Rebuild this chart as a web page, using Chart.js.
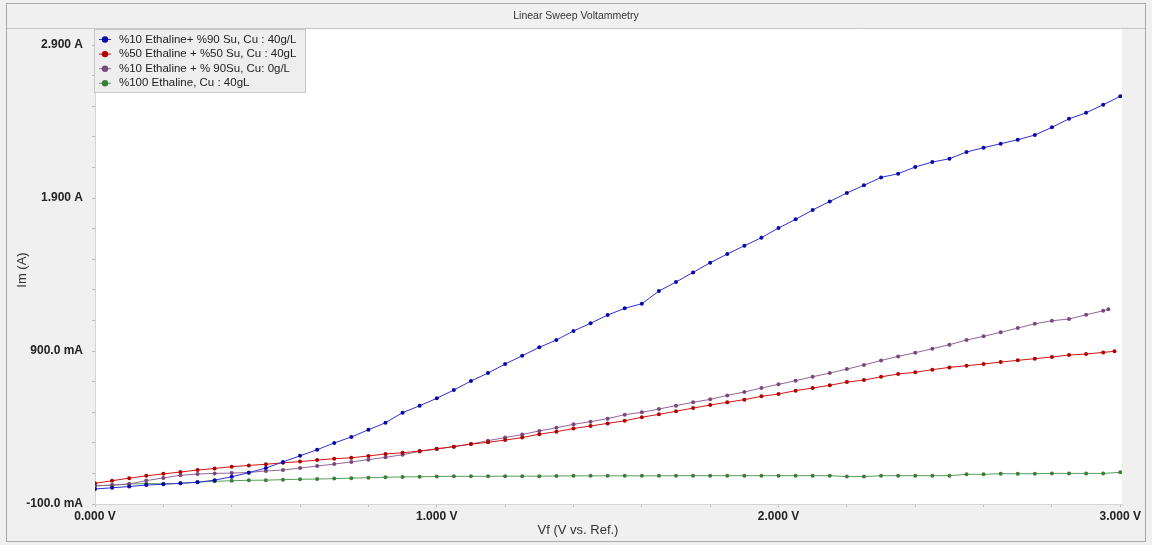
<!DOCTYPE html>
<html>
<head>
<meta charset="utf-8">
<script src="https://cdn.jsdelivr.net/npm/chart.js@4.4.1/dist/chart.umd.min.js"></script>
<style>
  html, body { margin: 0; padding: 0; background: #f0f0f0; }
  #wrap { width: 1152px; height: 545px; }
</style>
</head>
<body>
<div id="wrap"><canvas id="lsv" width="1152" height="545"></canvas></div>
<script>
// Linear Sweep Voltammetry - four electrolytes, Cu deposition

const sweepV = [
    0.00, 0.05, 0.10, 0.15, 0.20, 0.25, 0.30, 0.35, 0.40, 0.45,
    0.50, 0.55, 0.60, 0.65, 0.70, 0.75, 0.80, 0.85, 0.90, 0.95,
    1.00, 1.05, 1.10, 1.15, 1.20, 1.25, 1.30, 1.35, 1.40, 1.45,
    1.50, 1.55, 1.60, 1.65, 1.70, 1.75, 1.80, 1.85, 1.90, 1.95,
    2.00, 2.05, 2.10, 2.15, 2.20, 2.25, 2.30, 2.35, 2.40, 2.45,
    2.50, 2.55, 2.60, 2.65, 2.70, 2.75, 2.80, 2.85, 2.90, 2.95,
    3.00
];
// red and purple sweeps stop a little before 3 V
const redLastV = 2.983;
const purpleLastV = 2.965;

const seriesNames = [
    '%10 Ethaline+ %90 Su, Cu : 40g/L',
    '%50 Ethaline + %50 Su, Cu : 40gL',
    '%10 Ethaline + % 90Su, Cu: 0g/L',
    '%100 Ethaline, Cu : 40gL'
];

// current in A
const blueI = [
    -0.002, 0.006, 0.014, 0.024, 0.029, 0.035, 0.042, 0.056, 0.078, 0.105,
    0.135, 0.175, 0.215, 0.255, 0.299, 0.338, 0.385, 0.431, 0.497, 0.542,
    0.591, 0.645, 0.704, 0.756, 0.815, 0.869, 0.924, 0.972, 1.031, 1.081,
    1.135, 1.179, 1.209, 1.292, 1.351, 1.414, 1.477, 1.534, 1.588, 1.641,
    1.704, 1.761, 1.822, 1.878, 1.933, 1.983, 2.035, 2.059, 2.103, 2.135,
    2.157, 2.201, 2.229, 2.255, 2.281, 2.312, 2.362, 2.418, 2.457, 2.510,
    2.565
];
const redI = [
    0.035, 0.052, 0.069, 0.084, 0.097, 0.109, 0.122, 0.132, 0.144, 0.152,
    0.160, 0.169, 0.177, 0.187, 0.196, 0.202, 0.214, 0.227, 0.235, 0.246,
    0.261, 0.275, 0.292, 0.303, 0.318, 0.334, 0.356, 0.373, 0.393, 0.410,
    0.427, 0.444, 0.467, 0.486, 0.506, 0.527, 0.547, 0.565, 0.582, 0.604,
    0.619, 0.641, 0.658, 0.676, 0.697, 0.710, 0.731, 0.750, 0.761, 0.778,
    0.793, 0.804, 0.815, 0.828, 0.839, 0.850, 0.861, 0.874, 0.880, 0.891,
    0.898
];
const purpleI = [
    0.018, 0.024, 0.031, 0.053, 0.070, 0.088, 0.096, 0.100, 0.102, 0.106,
    0.116, 0.122, 0.135, 0.148, 0.161, 0.175, 0.190, 0.205, 0.222, 0.244,
    0.259, 0.275, 0.292, 0.314, 0.334, 0.354, 0.378, 0.398, 0.421, 0.438,
    0.458, 0.484, 0.499, 0.521, 0.543, 0.565, 0.584, 0.610, 0.632, 0.658,
    0.682, 0.706, 0.732, 0.756, 0.782, 0.809, 0.838, 0.865, 0.889, 0.915,
    0.941, 0.972, 0.996, 1.022, 1.050, 1.078, 1.098, 1.109, 1.137, 1.163,
    1.173
];
const greenI = [
    0.020, 0.022, 0.031, 0.033, 0.033, 0.035, 0.044, 0.048, 0.052, 0.055,
    0.056, 0.059, 0.062, 0.063, 0.066, 0.069, 0.072, 0.075, 0.077, 0.078,
    0.080, 0.081, 0.081, 0.081, 0.082, 0.082, 0.082, 0.083, 0.084, 0.084,
    0.084, 0.084, 0.084, 0.084, 0.085, 0.085, 0.085, 0.085, 0.085, 0.085,
    0.085, 0.085, 0.085, 0.085, 0.079, 0.079, 0.085, 0.085, 0.085, 0.085,
    0.085, 0.094, 0.094, 0.098, 0.098, 0.098, 0.100, 0.100, 0.100, 0.100,
    0.107
];

const xTickValues = [0, 0.2, 0.4, 0.6, 0.8, 1.0, 1.2, 1.4, 1.6, 1.8, 2.0, 2.2, 2.4, 2.6, 2.8, 3.0];
const xTickLabels = ['0.000 V', '', '', '', '', '1.000 V', '', '', '', '', '2.000 V', '', '', '', '', '3.000 V'];
const yTickValues = [-0.1, 0.1, 0.3, 0.5, 0.7, 0.9, 1.1, 1.3, 1.5, 1.7, 1.9, 2.1, 2.3, 2.5, 2.7, 2.9];
const yTickLabels = ['-100.0 mA', '', '', '', '', '900.0 mA', '', '', '', '', '1.900 A', '', '', '', '', '2.900 A'];

const COLORS = [
    { line: '#3030d8', dot: '#0808a8' },
    { line: '#d41414', dot: '#b00000' },
    { line: '#946698', dot: '#774a7b' },
    { line: '#55a055', dot: '#3d7d3d' }
];

function pts(vs, is, lastV) {
    return is.map((y, i) => ({ x: (lastV !== undefined && i === is.length - 1) ? lastV : vs[i], y: y }));
}

const FONT = '"Liberation Sans", Arial, sans-serif';

// frame, title, axis titles and the boxed legend like the potentiostat software
const lsvFrame = {
    id: 'lsvFrame',
    beforeDraw(chart) {
        const { ctx, chartArea: a } = chart;
        ctx.save();
        ctx.fillStyle = '#f0f0f0';
        ctx.fillRect(0, 0, chart.width, chart.height);
        ctx.fillStyle = '#ffffff';
        ctx.fillRect(a.left, a.top, a.right - a.left, a.bottom - a.top);
        ctx.strokeStyle = '#a9a9a9';
        ctx.lineWidth = 1;
        ctx.strokeRect(6.5, 3.5, 1139, 538);
        ctx.strokeStyle = '#c6c6c6';
        ctx.beginPath();
        ctx.moveTo(7, 28.5);
        ctx.lineTo(1145, 28.5);
        ctx.stroke();

        ctx.fillStyle = '#333333';
        ctx.textAlign = 'center';
        ctx.textBaseline = 'middle';
        ctx.font = '10.5px ' + FONT;
        ctx.fillText('Linear Sweep Voltammetry', 576, 16);
        ctx.font = '13px ' + FONT;
        ctx.fillText('Vf (V vs. Ref.)', 578, 530);
        ctx.translate(22, 270);
        ctx.rotate(-Math.PI / 2);
        ctx.fillText('Im (A)', 0, 0);
        ctx.restore();
    },
    afterDatasetsDraw(chart) {
        const { ctx } = chart;
        ctx.save();
        ctx.fillStyle = '#eeeeee';
        ctx.fillRect(94.5, 29.5, 211, 63);
        ctx.strokeStyle = '#c8c8c8';
        ctx.strokeRect(94.5, 29.5, 211, 63);
        ctx.font = '11.5px ' + FONT;
        ctx.textAlign = 'left';
        ctx.textBaseline = 'middle';
        seriesNames.forEach((name, i) => {
            const y = 39.5 + i * 14.6;
            ctx.strokeStyle = COLORS[i].line;
            ctx.beginPath();
            ctx.moveTo(99, y);
            ctx.lineTo(111, y);
            ctx.stroke();
            ctx.fillStyle = COLORS[i].dot;
            ctx.beginPath();
            ctx.arc(105, y, 3.2, 0, Math.PI * 2);
            ctx.fill();
            ctx.fillStyle = '#222222';
            ctx.fillText(name, 119, y);
        });
        ctx.restore();
    }
};

function makeSet(i, data) {
    return {
        label: seriesNames[i],
        data: data,
        borderColor: COLORS[i].line,
        borderWidth: 1,
        pointRadius: 2,
        pointBorderWidth: 0,
        pointBackgroundColor: COLORS[i].dot,
        tension: 0,
        fill: false
    };
}

new Chart(document.getElementById('lsv'), {
    type: 'line',
    data: {
        datasets: [
            makeSet(0, pts(sweepV, blueI)),
            makeSet(1, pts(sweepV, redI, redLastV)),
            makeSet(2, pts(sweepV, purpleI, purpleLastV)),
            makeSet(3, pts(sweepV, greenI))
        ]
    },
    options: {
        responsive: false,
        animation: false,
        layout: { padding: { top: 29, right: 30, bottom: 0, left: 0 } },
        plugins: { legend: { display: false }, title: { display: false }, tooltip: { enabled: false } },
        scales: {
            x: {
                type: 'linear',
                min: 0,
                max: 3.005,
                afterBuildTicks: s => { s.ticks = xTickValues.map(v => ({ value: v })); },
                afterFit: s => { s.height = 41; },
                grid: { drawOnChartArea: false, drawTicks: true, tickLength: 3, color: '#bdbdbd' },
                border: { display: true, color: '#d4d4d4' },
                ticks: {
                    autoSkip: false,
                    maxRotation: 0,
                    padding: 2,
                    color: '#222222',
                    font: { family: FONT, size: 12, weight: 'bold' },
                    callback: (v, i) => xTickLabels[i]
                }
            },
            y: {
                type: 'linear',
                min: -0.1,
                max: 3.005,
                afterBuildTicks: s => { s.ticks = yTickValues.map(v => ({ value: v })); },
                afterFit: s => { s.width = 95; },
                grid: { drawOnChartArea: false, drawTicks: true, tickLength: 3, color: '#bdbdbd' },
                border: { display: true, color: '#d4d4d4' },
                ticks: {
                    autoSkip: false,
                    padding: 9,
                    color: '#222222',
                    font: { family: FONT, size: 12, weight: 'bold' },
                    callback: (v, i) => yTickLabels[i]
                }
            }
        }
    },
    plugins: [lsvFrame]
});
</script>
</body>
</html>
